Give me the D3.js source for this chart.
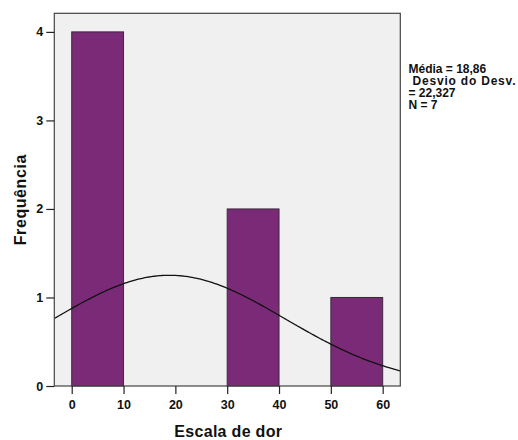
<!DOCTYPE html>
<html>
<head>
<meta charset="utf-8">
<script src="https://cdn.jsdelivr.net/npm/d3@7"></script>
<style>
  html, body { margin: 0; padding: 0; background: #ffffff; }
  svg { display: block; font-family: "Liberation Sans", Arial, sans-serif; }
</style>
</head>
<body>
<svg id="chart" width="518" height="440"></svg>
<script>
// Histogram bins of the pain scale (lower edge, upper edge, count)
const binStarts = [0, 10, 20, 30, 40, 50];
const binEnds   = [10, 20, 30, 40, 50, 60];
const counts    = [4, 0, 0, 2, 0, 1];

// Axis ticks
const xTicks = [0, 10, 20, 30, 40, 50, 60];
const yTicks = [0, 1, 2, 3, 4];

// Summary statistics used for the fitted normal curve
const mean = 18.86;
const sd = 22.327;
const n = 7;
const statLines = ["Média = 18,86", " Desvio do Desv.", "= 22,327", "N = 7"];

const svg = d3.select("#chart");

const plot = { left: 54.3, right: 400.3, top: 13.3, bottom: 386 };

const x = d3.scaleLinear().domain([-3.36, 63.4]).range([plot.left, plot.right]);
const y = d3.scaleLinear().domain([0, 4.21]).range([plot.bottom, plot.top]);

// plot background
svg.append("rect")
  .attr("x", plot.left).attr("y", plot.top)
  .attr("width", plot.right - plot.left).attr("height", plot.bottom - plot.top)
  .attr("fill", "#f0f0f0");

// bars
const bins = binStarts.map((s, i) => ({ x0: s, x1: binEnds[i], c: counts[i] }));
svg.append("g").selectAll("rect")
  .data(bins.filter(d => d.c > 0))
  .join("rect")
  .attr("x", d => x(d.x0))
  .attr("y", d => y(d.c))
  .attr("width", d => x(d.x1) - x(d.x0))
  .attr("height", d => y(0) - y(d.c))
  .attr("fill", "#7b2a77")
  .attr("stroke", "#3a2a3a")
  .attr("stroke-width", 1);

// normal curve scaled to counts (bin width 10)
const binWidth = 10;
const dens = v => n * binWidth / (sd * Math.sqrt(2 * Math.PI)) * Math.exp(-0.5 * ((v - mean) / sd) ** 2);
const xs = d3.range(x.domain()[0], x.domain()[1] + 0.01, 0.25);
svg.append("path")
  .datum(xs)
  .attr("fill", "none")
  .attr("stroke", "#111")
  .attr("stroke-width", 1.3)
  .attr("d", d3.line().x(v => x(v)).y(v => y(dens(v))).curve(d3.curveBasis));

// frame
svg.append("rect")
  .attr("x", plot.left).attr("y", plot.top)
  .attr("width", plot.right - plot.left).attr("height", plot.bottom - plot.top)
  .attr("fill", "none")
  .attr("stroke", "#444")
  .attr("stroke-width", 1.2);

// x axis
const xAxis = svg.append("g")
  .attr("transform", `translate(0,${plot.bottom})`)
  .call(d3.axisBottom(x).tickValues(xTicks).tickFormat(d3.format("d")).tickSize(8).tickSizeOuter(0).tickPadding(6));
xAxis.select(".domain").remove();
xAxis.selectAll("line").attr("stroke", "#222").attr("stroke-width", 1.2);
xAxis.selectAll("text")
  .attr("fill", "#111")
  .style("font-size", "12.5px")
  .style("font-weight", "bold");

// y axis
const yAxis = svg.append("g")
  .attr("transform", `translate(${plot.left},0)`)
  .call(d3.axisLeft(y).tickValues(yTicks).tickFormat(d3.format("d")).tickSize(8).tickSizeOuter(0).tickPadding(3));
yAxis.select(".domain").remove();
yAxis.selectAll("line").attr("stroke", "#222").attr("stroke-width", 1.2);
yAxis.selectAll("text")
  .attr("fill", "#111")
  .style("font-size", "12.5px")
  .style("font-weight", "bold");

// axis titles
svg.append("text")
  .attr("x", (plot.left + plot.right) / 2 + 1)
  .attr("y", 436.5)
  .attr("text-anchor", "middle")
  .attr("fill", "#111")
  .style("font-size", "16px")
  .style("font-weight", "bold")
  .style("letter-spacing", "0.3px")
  .text("Escala de dor");

svg.append("text")
  .attr("transform", `translate(25.5,${(plot.top + plot.bottom) / 2}) rotate(-90)`)
  .attr("text-anchor", "middle")
  .attr("fill", "#111")
  .style("font-size", "16px")
  .style("font-weight", "bold")
  .style("letter-spacing", "0.6px")
  .text("Frequência");

// statistics box; the second line is stretched a little to fill the margin
svg.append("g").selectAll("text")
  .data(statLines)
  .join("text")
  .attr("x", 408.5)
  .attr("y", (d, i) => 72.5 + i * 12)
  .attr("fill", "#111")
  .attr("xml:space", "preserve")
  .attr("textLength", (d, i) => i === 1 ? 107 : null)
  .attr("lengthAdjust", "spacing")
  .style("white-space", "pre")
  .style("font-size", "12px")
  .style("font-weight", "bold")
  .text(d => d);
</script>
</body>
</html>
